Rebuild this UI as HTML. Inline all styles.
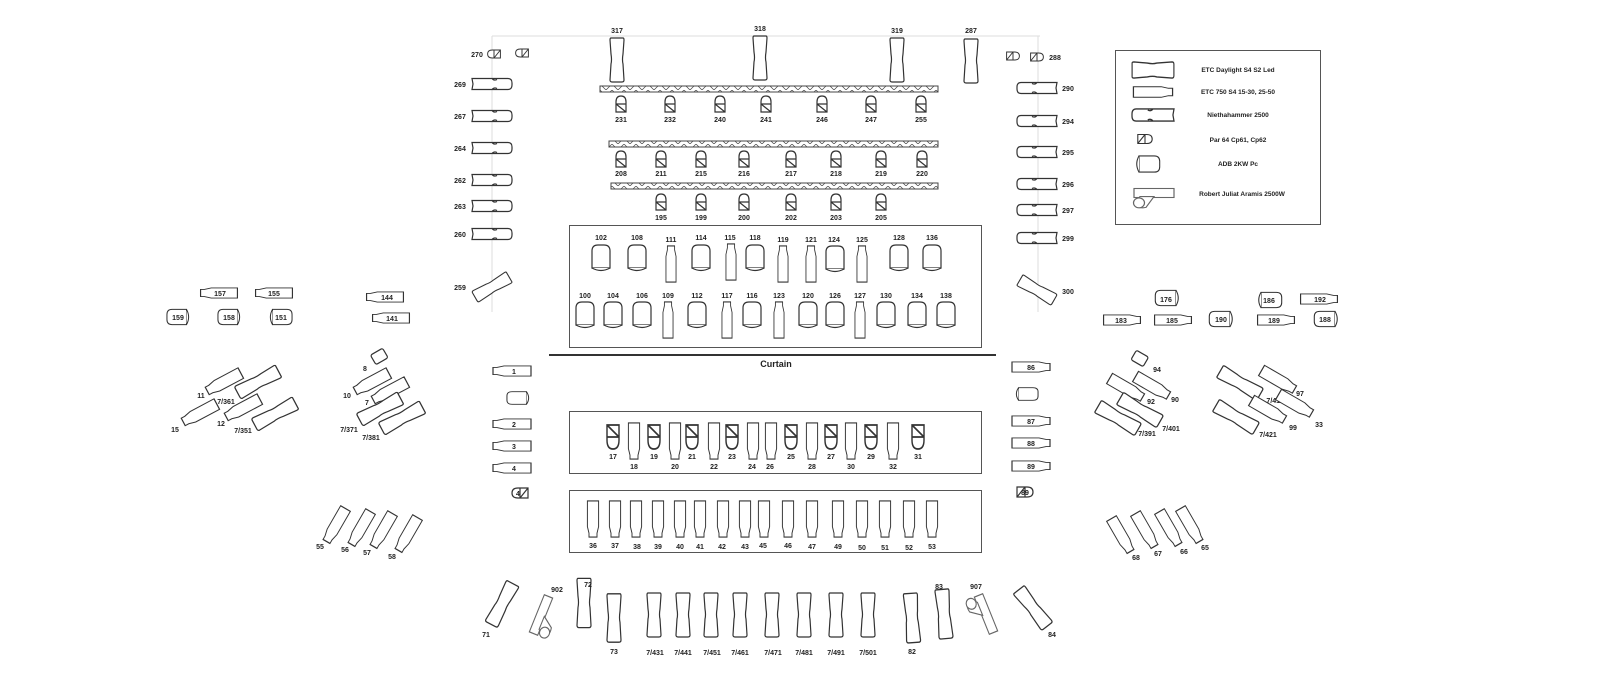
<!DOCTYPE html>
<html><head><meta charset="utf-8"><style>
html,body{margin:0;padding:0;background:#fff;}
svg{display:block;}
text{font-family:"Liberation Sans",sans-serif;font-size:7px;font-weight:bold;fill:#222;text-anchor:middle;}
.s{fill:#fff;stroke:#333;stroke-width:1.2;}
.t{fill:none;stroke:#444;stroke-width:0.8;}
</style></head><body>
<svg width="1600" height="692" viewBox="0 0 1600 692" xmlns="http://www.w3.org/2000/svg">
<defs>
<g id="L"><path class="s" d="M-6,-22 L6,-22 Q7,-22 7,-20 L6,-6 Q5,0 6,4 L7,20 Q7,22 5,22 L-5,22 Q-7,22 -7,20 L-6,4 Q-5,0 -6,-6 L-7,-20 Q-7,-22 -6,-22Z"/></g>
<g id="N"><path class="s" d="M-20,-5.5 L16,-5.5 Q20,-5.5 20,-1 L20,1 Q20,5.5 16,5.5 L-20,5.5 L-19,0 Z M0,-5.5 Q2,-3 5,-4.5 M0,5.5 Q2,3 5,4.5"/></g>
<g id="E"><path class="s" d="M-7,-19 H7 V8 L5,15 V19 H-5 V15 L-7,8 Z"/></g>
<g id="A"><path class="s" d="M-9,10 V-7 Q-9,-13 -3,-13 H3 Q9,-13 9,-7 V10 Z"/><path class="s" d="M-9,10 Q0,15 9,10"/></g>
<g id="P"><path class="s" d="M-5,8 V-2 Q-5,-8 0,-8 Q5,-8 5,-2 V8 Z M-5,0 H5 M-5,0 L5,8"/></g>
<g id="R"><rect class="s" x="-20" y="-5" width="40" height="10" style="stroke:#666"/><path class="s" style="stroke:#666" d="M-14,4 L0,4 L-8,16 Q-16,18 -20,12 Z"/><circle class="s" style="stroke:#666" cx="-15" cy="11" r="5.5"/></g>
<pattern id="zz" width="12" height="6" patternUnits="userSpaceOnUse"><path d="M0,0 L6,6 L12,0" fill="none" stroke="#444" stroke-width="0.7"/></pattern>
</defs>

<!-- guide lines -->
<line x1="492" y1="36" x2="1040" y2="36" stroke="#ddd" stroke-width="1"/>
<line x1="492" y1="36" x2="492" y2="312" stroke="#ddd" stroke-width="1"/>
<line x1="1038" y1="36" x2="1038" y2="312" stroke="#ddd" stroke-width="1"/>

<!-- top LEDs -->
<use href="#L" transform="translate(617,60)"/><text x="617" y="33">317</text>
<use href="#L" transform="translate(760,58)"/><text x="760" y="31">318</text>
<use href="#L" transform="translate(897,60)"/><text x="897" y="33">319</text>
<use href="#L" transform="translate(971,61)"/><text x="971" y="33">287</text>

<!-- trusses -->
<rect x="600" y="86" width="338" height="6" fill="url(#zz)" stroke="#444" stroke-width="1"/>
<rect x="609" y="141" width="329" height="6" fill="url(#zz)" stroke="#444" stroke-width="1"/>
<rect x="611" y="183" width="327" height="6" fill="url(#zz)" stroke="#444" stroke-width="1"/>

<use href="#P" transform="translate(621,104)"/><text x="621" y="122">231</text>
<use href="#P" transform="translate(670,104)"/><text x="670" y="122">232</text>
<use href="#P" transform="translate(720,104)"/><text x="720" y="122">240</text>
<use href="#P" transform="translate(766,104)"/><text x="766" y="122">241</text>
<use href="#P" transform="translate(822,104)"/><text x="822" y="122">246</text>
<use href="#P" transform="translate(871,104)"/><text x="871" y="122">247</text>
<use href="#P" transform="translate(921,104)"/><text x="921" y="122">255</text>

<use href="#P" transform="translate(621,159)"/><text x="621" y="176">208</text>
<use href="#P" transform="translate(661,159)"/><text x="661" y="176">211</text>
<use href="#P" transform="translate(701,159)"/><text x="701" y="176">215</text>
<use href="#P" transform="translate(744,159)"/><text x="744" y="176">216</text>
<use href="#P" transform="translate(791,159)"/><text x="791" y="176">217</text>
<use href="#P" transform="translate(836,159)"/><text x="836" y="176">218</text>
<use href="#P" transform="translate(881,159)"/><text x="881" y="176">219</text>
<use href="#P" transform="translate(922,159)"/><text x="922" y="176">220</text>

<use href="#P" transform="translate(661,202)"/><text x="661" y="220">195</text>
<use href="#P" transform="translate(701,202)"/><text x="701" y="220">199</text>
<use href="#P" transform="translate(744,202)"/><text x="744" y="220">200</text>
<use href="#P" transform="translate(791,202)"/><text x="791" y="220">202</text>
<use href="#P" transform="translate(836,202)"/><text x="836" y="220">203</text>
<use href="#P" transform="translate(881,202)"/><text x="881" y="220">205</text>

<!-- left column -->
<use href="#P" transform="translate(494,54) rotate(-90) scale(0.8)"/>
<use href="#P" transform="translate(522,53) rotate(-90) scale(0.8)"/><text x="477" y="57">270</text>
<use href="#N" transform="translate(492,84)"/><text x="460" y="87">269</text>
<use href="#N" transform="translate(492,116)"/><text x="460" y="119">267</text>
<use href="#N" transform="translate(492,148)"/><text x="460" y="151">264</text>
<use href="#N" transform="translate(492,180)"/><text x="460" y="183">262</text>
<use href="#N" transform="translate(492,206)"/><text x="460" y="209">263</text>
<use href="#N" transform="translate(492,234)"/><text x="460" y="237">260</text>
<use href="#L" transform="translate(492,287) rotate(60) scale(0.9,0.9)"/><text x="460" y="290">259</text>

<!-- right column -->
<use href="#P" transform="translate(1013,56) rotate(90) scale(0.8)"/>
<use href="#P" transform="translate(1037,57) rotate(90) scale(0.8)"/><text x="1055" y="60">288</text>
<use href="#N" transform="translate(1037,88) rotate(180)"/><text x="1068" y="91">290</text>
<use href="#N" transform="translate(1037,121) rotate(180)"/><text x="1068" y="124">294</text>
<use href="#N" transform="translate(1037,152) rotate(180)"/><text x="1068" y="155">295</text>
<use href="#N" transform="translate(1037,184) rotate(180)"/><text x="1068" y="187">296</text>
<use href="#N" transform="translate(1037,210) rotate(180)"/><text x="1068" y="213">297</text>
<use href="#N" transform="translate(1037,238) rotate(180)"/><text x="1068" y="241">299</text>
<use href="#L" transform="translate(1037,290) rotate(-60) scale(0.9,0.9)"/><text x="1068" y="294">300</text>

<!-- box 1 -->
<rect x="569.5" y="225.5" width="412" height="122" fill="none" stroke="#555" stroke-width="1"/>
<use href="#A" transform="translate(601,258)"/><text x="601" y="240">102</text>
<use href="#A" transform="translate(637,258)"/><text x="637" y="240">108</text>
<use href="#E" transform="translate(671,264) rotate(180) scale(0.72,0.95)"/><text x="671" y="242">111</text>
<use href="#A" transform="translate(701,258)"/><text x="701" y="240">114</text>
<use href="#E" transform="translate(731,262) rotate(180) scale(0.72,0.95)"/><text x="730" y="240">115</text>
<use href="#A" transform="translate(755,258)"/><text x="755" y="240">118</text>
<use href="#E" transform="translate(783,264) rotate(180) scale(0.72,0.95)"/><text x="783" y="242">119</text>
<use href="#E" transform="translate(811,264) rotate(180) scale(0.72,0.95)"/><text x="811" y="242">121</text>
<use href="#A" transform="translate(835,259)"/><text x="834" y="242">124</text>
<use href="#E" transform="translate(862,264) rotate(180) scale(0.72,0.95)"/><text x="862" y="242">125</text>
<use href="#A" transform="translate(899,258)"/><text x="899" y="240">128</text>
<use href="#A" transform="translate(932,258)"/><text x="932" y="240">136</text>

<use href="#A" transform="translate(585,315)"/><text x="585" y="298">100</text>
<use href="#A" transform="translate(613,315)"/><text x="613" y="298">104</text>
<use href="#A" transform="translate(642,315)"/><text x="642" y="298">106</text>
<use href="#E" transform="translate(668,320) rotate(180) scale(0.72,0.95)"/><text x="668" y="298">109</text>
<use href="#A" transform="translate(697,315)"/><text x="697" y="298">112</text>
<use href="#E" transform="translate(727,320) rotate(180) scale(0.72,0.95)"/><text x="727" y="298">117</text>
<use href="#A" transform="translate(752,315)"/><text x="752" y="298">116</text>
<use href="#E" transform="translate(779,320) rotate(180) scale(0.72,0.95)"/><text x="779" y="298">123</text>
<use href="#A" transform="translate(808,315)"/><text x="808" y="298">120</text>
<use href="#A" transform="translate(835,315)"/><text x="835" y="298">126</text>
<use href="#E" transform="translate(860,320) rotate(180) scale(0.72,0.95)"/><text x="860" y="298">127</text>
<use href="#A" transform="translate(886,315)"/><text x="886" y="298">130</text>
<use href="#A" transform="translate(917,315)"/><text x="917" y="298">134</text>
<use href="#A" transform="translate(946,315)"/><text x="946" y="298">138</text>

<!-- curtain -->
<line x1="549" y1="355" x2="996" y2="355" stroke="#333" stroke-width="2"/>
<text x="776" y="367" style="font-size:9px">Curtain</text>

<!-- left stack -->
<use href="#E" transform="translate(512,371) rotate(90) scale(0.72,1)"/><text x="514" y="374">1</text>
<use href="#A" transform="translate(518,398) rotate(-90) scale(0.7,0.85)"/>
<use href="#E" transform="translate(512,424) rotate(90) scale(0.72,1)"/><text x="514" y="427">2</text>
<use href="#E" transform="translate(512,446) rotate(90) scale(0.72,1)"/><text x="514" y="449">3</text>
<use href="#E" transform="translate(512,468) rotate(90) scale(0.72,1)"/><text x="514" y="471">4</text>
<use href="#P" transform="translate(520,493) rotate(-90)"/><text x="518" y="496">4</text>

<!-- right stack -->
<use href="#E" transform="translate(1031,367) rotate(-90) scale(0.72,1)"/><text x="1031" y="370">86</text>
<use href="#A" transform="translate(1027,394) rotate(90) scale(0.7,0.85)"/>
<use href="#E" transform="translate(1031,421) rotate(-90) scale(0.72,1)"/><text x="1031" y="424">87</text>
<use href="#E" transform="translate(1031,443) rotate(-90) scale(0.72,1)"/><text x="1031" y="446">88</text>
<use href="#E" transform="translate(1031,466) rotate(-90) scale(0.72,1)"/><text x="1031" y="469">89</text>
<use href="#P" transform="translate(1025,492) rotate(90)"/><text x="1025" y="495">89</text>

<!-- box 2 -->
<rect x="569.5" y="411.5" width="412" height="62" fill="none" stroke="#555" stroke-width="1"/>
<use href="#P" transform="translate(613,437) rotate(180) scale(1.2,1.5)"/><text x="613" y="459">17</text>
<use href="#E" transform="translate(634,441) scale(0.8,0.95)"/><text x="634" y="469">18</text>
<use href="#P" transform="translate(654,437) rotate(180) scale(1.2,1.5)"/><text x="654" y="459">19</text>
<use href="#E" transform="translate(675,441) scale(0.8,0.95)"/><text x="675" y="469">20</text>
<use href="#P" transform="translate(692,437) rotate(180) scale(1.2,1.5)"/><text x="692" y="459">21</text>
<use href="#E" transform="translate(714,441) scale(0.8,0.95)"/><text x="714" y="469">22</text>
<use href="#P" transform="translate(732,437) rotate(180) scale(1.2,1.5)"/><text x="732" y="459">23</text>
<use href="#E" transform="translate(753,441) scale(0.8,0.95)"/><text x="752" y="469">24</text>
<use href="#E" transform="translate(771,441) scale(0.8,0.95)"/><text x="770" y="469">26</text>
<use href="#P" transform="translate(791,437) rotate(180) scale(1.2,1.5)"/><text x="791" y="459">25</text>
<use href="#E" transform="translate(812,441) scale(0.8,0.95)"/><text x="812" y="469">28</text>
<use href="#P" transform="translate(831,437) rotate(180) scale(1.2,1.5)"/><text x="831" y="459">27</text>
<use href="#E" transform="translate(851,441) scale(0.8,0.95)"/><text x="851" y="469">30</text>
<use href="#P" transform="translate(871,437) rotate(180) scale(1.2,1.5)"/><text x="871" y="459">29</text>
<use href="#E" transform="translate(893,441) scale(0.8,0.95)"/><text x="893" y="469">32</text>
<use href="#P" transform="translate(918,437) rotate(180) scale(1.2,1.5)"/><text x="918" y="459">31</text>

<!-- box 3 -->
<rect x="569.5" y="490.5" width="412" height="62" fill="none" stroke="#555" stroke-width="1"/>
<use href="#E" transform="translate(593,519) scale(0.8,0.95)"/><text x="593" y="548">36</text>
<use href="#E" transform="translate(615,519) scale(0.8,0.95)"/><text x="615" y="548">37</text>
<use href="#E" transform="translate(636,519) scale(0.8,0.95)"/><text x="637" y="549">38</text>
<use href="#E" transform="translate(658,519) scale(0.8,0.95)"/><text x="658" y="549">39</text>
<use href="#E" transform="translate(680,519) scale(0.8,0.95)"/><text x="680" y="549">40</text>
<use href="#E" transform="translate(700,519) scale(0.8,0.95)"/><text x="700" y="549">41</text>
<use href="#E" transform="translate(723,519) scale(0.8,0.95)"/><text x="722" y="549">42</text>
<use href="#E" transform="translate(745,519) scale(0.8,0.95)"/><text x="745" y="549">43</text>
<use href="#E" transform="translate(764,519) scale(0.8,0.95)"/><text x="763" y="548">45</text>
<use href="#E" transform="translate(788,519) scale(0.8,0.95)"/><text x="788" y="548">46</text>
<use href="#E" transform="translate(812,519) scale(0.8,0.95)"/><text x="812" y="549">47</text>
<use href="#E" transform="translate(838,519) scale(0.8,0.95)"/><text x="838" y="549">49</text>
<use href="#E" transform="translate(862,519) scale(0.8,0.95)"/><text x="862" y="550">50</text>
<use href="#E" transform="translate(885,519) scale(0.8,0.95)"/><text x="885" y="550">51</text>
<use href="#E" transform="translate(909,519) scale(0.8,0.95)"/><text x="909" y="550">52</text>
<use href="#E" transform="translate(932,519) scale(0.8,0.95)"/><text x="932" y="549">53</text>

<!-- bottom row -->
<use href="#L" transform="translate(502,604) rotate(28) scale(1,1.05)"/><text x="486" y="637">71</text>
<use href="#R" transform="translate(541,615) rotate(-68) scale(1,0.9)"/><text x="557" y="592">902</text>
<use href="#L" transform="translate(584,603) scale(1,1.12)"/><text x="588" y="587">72</text>
<use href="#L" transform="translate(614,618) scale(1,1.1)"/><text x="614" y="654">73</text>
<use href="#L" transform="translate(654,615)"/><text x="655" y="655">7/431</text>
<use href="#L" transform="translate(683,615)"/><text x="683" y="655">7/441</text>
<use href="#L" transform="translate(711,615)"/><text x="712" y="655">7/451</text>
<use href="#L" transform="translate(740,615)"/><text x="740" y="655">7/461</text>
<use href="#L" transform="translate(772,615)"/><text x="773" y="655">7/471</text>
<use href="#L" transform="translate(804,615)"/><text x="804" y="655">7/481</text>
<use href="#L" transform="translate(836,615)"/><text x="836" y="655">7/491</text>
<use href="#L" transform="translate(868,615)"/><text x="868" y="655">7/501</text>
<use href="#L" transform="translate(912,618) rotate(-4) scale(1,1.12)"/><text x="912" y="654">82</text>
<use href="#L" transform="translate(944,614) rotate(-5) scale(1,1.12)"/><text x="939" y="589">83</text>
<use href="#R" transform="translate(986,614) rotate(68) scale(1,0.9)"/><text x="976" y="589">907</text>
<use href="#L" transform="translate(1033,608) rotate(-38) scale(1,1.05)"/><text x="1052" y="637">84</text>

<!-- left side group -->
<use href="#E" transform="translate(219,293) rotate(90) scale(0.72,0.97)"/><text x="220" y="296">157</text>
<use href="#E" transform="translate(274,293) rotate(90) scale(0.72,0.97)"/><text x="274" y="296">155</text>
<use href="#A" transform="translate(178,317) rotate(-90) scale(0.85,0.85)"/><text x="178" y="320">159</text>
<use href="#A" transform="translate(229,317) rotate(-90) scale(0.85,0.85)"/><text x="229" y="320">158</text>
<use href="#A" transform="translate(281,317) rotate(90) scale(0.85,0.85)"/><text x="281" y="320">151</text>
<use href="#E" transform="translate(385,297) rotate(90) scale(0.72,0.97)"/><text x="387" y="300">144</text>
<use href="#E" transform="translate(391,318) rotate(90) scale(0.72,0.97)"/><text x="392" y="321">141</text>

<use href="#E" transform="translate(224,382) rotate(-28) rotate(90) scale(0.85,1)"/><text x="201" y="398">11</text>
<use href="#L" transform="translate(258,382) rotate(62) scale(1,1.05)"/><text x="226" y="404">7/361</text>
<use href="#E" transform="translate(200,413) rotate(-28) rotate(90) scale(0.85,1)"/><text x="175" y="432">15</text>
<use href="#E" transform="translate(243,408) rotate(-28) rotate(90) scale(0.85,1)"/><text x="221" y="426">12</text>
<use href="#L" transform="translate(275,414) rotate(62) scale(1,1.05)"/><text x="243" y="433">7/351</text>
<rect class="s" x="372" y="351" width="14" height="11" rx="2" transform="rotate(-30 379 356)"/><text x="365" y="371">8</text>
<use href="#E" transform="translate(372,382) rotate(-28) rotate(90) scale(0.85,1)"/><text x="347" y="398">10</text>
<use href="#E" transform="translate(390,391) rotate(-28) rotate(90) scale(0.85,1)"/><text x="367" y="405">7</text>
<use href="#L" transform="translate(380,409) rotate(62) scale(1,1.05)"/><text x="349" y="432">7/371</text>
<use href="#L" transform="translate(402,418) rotate(62) scale(1,1.05)"/><text x="371" y="440">7/381</text>

<use href="#E" transform="translate(336,525) rotate(30) scale(0.8,1)"/><text x="320" y="549">55</text>
<use href="#E" transform="translate(361,528) rotate(30) scale(0.8,1)"/><text x="345" y="552">56</text>
<use href="#E" transform="translate(383,530) rotate(30) scale(0.8,1)"/><text x="367" y="555">57</text>
<use href="#E" transform="translate(408,534) rotate(30) scale(0.8,1)"/><text x="392" y="559">58</text>

<!-- right side group -->
<use href="#A" transform="translate(1167,298) rotate(-90) scale(0.85,0.9)"/><text x="1166" y="302">176</text>
<use href="#E" transform="translate(1122,320) rotate(-90) scale(0.72,0.97)"/><text x="1121" y="323">183</text>
<use href="#E" transform="translate(1173,320) rotate(-90) scale(0.72,0.97)"/><text x="1172" y="323">185</text>
<use href="#A" transform="translate(1221,319) rotate(-90) scale(0.85,0.9)"/><text x="1221" y="322">190</text>
<use href="#A" transform="translate(1270,300) rotate(90) scale(0.85,0.9)"/><text x="1269" y="303">186</text>
<use href="#E" transform="translate(1319,299) rotate(-90) scale(0.72,0.97)"/><text x="1320" y="302">192</text>
<use href="#E" transform="translate(1276,320) rotate(-90) scale(0.72,0.97)"/><text x="1274" y="323">189</text>
<use href="#A" transform="translate(1326,319) rotate(-90) scale(0.85,0.9)"/><text x="1325" y="322">188</text>

<rect class="s" x="1133" y="353" width="14" height="11" rx="2" transform="rotate(30 1140 358)"/><text x="1157" y="372">94</text>
<use href="#E" transform="translate(1126,388) rotate(30) rotate(-90) scale(0.85,1)"/><text x="1151" y="404">92</text>
<use href="#E" transform="translate(1152,386) rotate(30) rotate(-90) scale(0.85,1)"/><text x="1175" y="402">90</text>
<use href="#L" transform="translate(1118,418) rotate(-60) scale(1,1.05)"/><text x="1147" y="436">7/391</text>
<use href="#L" transform="translate(1140,410) rotate(-60) scale(1,1.05)"/><text x="1171" y="431">7/401</text>
<use href="#L" transform="translate(1240,383) rotate(-60) scale(1,1.05)"/><text x="1275" y="403">7/411</text>
<use href="#E" transform="translate(1278,380) rotate(30) rotate(-90) scale(0.85,1)"/><text x="1300" y="396">97</text>
<use href="#L" transform="translate(1236,417) rotate(-60) scale(1,1.05)"/><text x="1268" y="437">7/421</text>
<use href="#E" transform="translate(1268,410) rotate(30) rotate(-90) scale(0.85,1)"/><text x="1293" y="430">99</text>
<use href="#E" transform="translate(1295,404) rotate(30) rotate(-90) scale(0.85,1)"/><text x="1319" y="427">33</text>

<use href="#E" transform="translate(1121,535) rotate(-30) scale(0.8,1)"/><text x="1136" y="560">68</text>
<use href="#E" transform="translate(1145,530) rotate(-30) scale(0.8,1)"/><text x="1158" y="556">67</text>
<use href="#E" transform="translate(1169,528) rotate(-30) scale(0.8,1)"/><text x="1184" y="554">66</text>
<use href="#E" transform="translate(1190,525) rotate(-30) scale(0.8,1)"/><text x="1205" y="550">65</text>

<!-- legend -->
<rect x="1115.5" y="50.5" width="205" height="174" fill="none" stroke="#555" stroke-width="1"/>
<use href="#L" transform="translate(1153,70) rotate(-90) scale(1.15,0.95)"/><text x="1238" y="72" style="font-size:6.5px">ETC Daylight S4 S2 Led</text>
<use href="#E" transform="translate(1153,92) rotate(-90) scale(0.75,1.03)"/><text x="1238" y="94" style="font-size:6.5px">ETC 750 S4 15-30, 25-50</text>
<use href="#N" transform="translate(1153,115) rotate(180) scale(1.05,1.1)"/><text x="1238" y="117" style="font-size:6.5px">Niethahammer 2500</text>
<use href="#P" transform="translate(1145,139) rotate(90) scale(0.9)"/><text x="1238" y="142" style="font-size:6.5px">Par 64 Cp61, Cp62</text>
<use href="#A" transform="translate(1148,164) rotate(90) scale(0.9,0.9)"/><text x="1238" y="166" style="font-size:6.5px">ADB 2KW Pc</text>
<use href="#R" transform="translate(1154,193) scale(1,0.9)"/><text x="1242" y="196" style="font-size:6.5px">Robert Juliat Aramis 2500W</text>
</svg>
</body></html>
